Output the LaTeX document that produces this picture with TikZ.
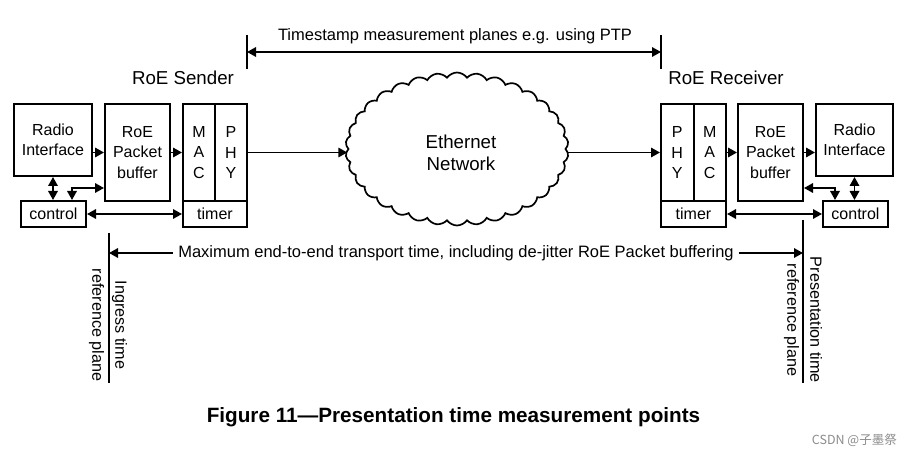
\documentclass[tikz,border=0pt]{standalone}
\usepackage{fontspec}
\setmainfont{Liberation Sans}
\newfontfamily\cjk{Noto Sans CJK SC}
\usetikzlibrary{arrows.meta,shapes.symbols}
\tikzset{
  box/.style={draw, line width=2pt, inner sep=0pt, align=center, font=\fontsize{16}{20.5}\selectfont},
  tip/.tip={Triangle[length=9pt,width=9.5pt]},
  arr/.style={line width=1.7pt, -tip},
  darr/.style={line width=1.7pt, tip-tip},
  lbl/.style={font=\fontsize{16.5}{20}\selectfont, inner sep=1pt},
  biglbl/.style={font=\fontsize{18.7}{22}\selectfont, inner sep=1pt},
  plane/.style={line width=1.7pt},
  vlbl/.style={rotate=-90, align=center, font=\fontsize{16.2}{23}\selectfont, inner sep=0pt}
}
\begin{document}
\begin{tikzpicture}[x=1pt,y=-1pt]
\useasboundingbox[fill=white] (0,0) rectangle (913,457);
% left side
\node[box, minimum width=78pt, minimum height=72pt] (ri) at (53,140) {Radio\\Interface};
\node[box, minimum width=65pt, minimum height=97pt] (buf) at (137.5,152.5) {RoE\\Packet\\buffer};
\node[box, minimum width=32pt, minimum height=97pt] (mac) at (199,152.5) {M\\A\\C};
\node[box, minimum width=32pt, minimum height=97pt] (phy) at (231,152.5) {P\\H\\Y};
\node[box, minimum width=64pt, minimum height=26pt] (timer) at (215,214) {timer};
\node[box, minimum width=65pt, minimum height=26pt] (ctl) at (53.5,214) {control};
% right side
\node[box, minimum width=32.5pt, minimum height=97pt] (phy2) at (677.25,152.5) {P\\H\\Y};
\node[box, minimum width=32.5pt, minimum height=97pt] (mac2) at (709.75,152.5) {M\\A\\C};
\node[box, minimum width=65pt, minimum height=26pt] (timer2) at (693.5,214) {timer};
\node[box, minimum width=65pt, minimum height=97pt] (buf2) at (770.5,152.5) {RoE\\Packet\\buffer};
\node[box, minimum width=77pt, minimum height=72pt] (ri2) at (854.5,140) {Radio\\Interface};
\node[box, minimum width=65pt, minimum height=26pt] (ctl2) at (855.5,214) {control};
% cloud
\node[cloud, draw, line width=1.7pt, cloud puffs=34, cloud puff arc=110, aspect=1.45,
      minimum width=223pt, minimum height=153pt, inner sep=0pt] (net) at (457,149) {};
\node[align=center, font=\fontsize{18.7}{21.5}\selectfont, inner sep=0pt] (nettxt) at (461,153) {Ethernet\\Network};
% data arrows
\draw[arr] (ri.east |- buf.west) -- (buf.west);
\draw[arr] (buf.east) -- (mac.west);
\draw[arr] (phy.east) -- (phy.east -| net.west);
\draw[arr] (phy2.west -| net.east) -- (phy2.west);
\draw[arr] (mac2.east) -- (buf2.west);
\draw[arr] (buf2.east) -- (buf2.east -| ri2.west);
% control arrows
\draw[darr] (ri.south) -- (ri.south |- ctl.north);
\draw[darr] (buf.west |- 0,188) -| (ctl.north -| 72,0);
\draw[darr] (ctl.east) -- (timer.west);
\draw[darr] (ri2.south) -- (ri2.south |- ctl2.north);
\draw[darr] (buf2.east |- 0,188) -| (ctl2.north -| 835,0);
\draw[darr] (timer2.east) -- (ctl2.west);
% labels
\node[biglbl] (snd) at (183,78) {RoE Sender};
\node[biglbl] (rcv) at (726,78) {RoE Receiver};
% top timestamp planes
\coordinate (ttl) at (247,35);
\coordinate (tbl) at (247,69);
\coordinate (ttr) at (661,35);
\coordinate (tbr) at (661,69);
\coordinate (tal) at (247,52);
\coordinate (tar) at (661,52);
\draw[plane] (ttl) -- (tbl);
\draw[plane] (ttr) -- (tbr);
\draw[darr] (tal) -- (tar);
\node[lbl] (ts) at (455,36) {Timestamp measurement planes e.g. using PTP};
% bottom reference planes
\coordinate (lpt) at (109,233);
\coordinate (lpb) at (109,383);
\coordinate (rpt) at (803,220);
\coordinate (rpb) at (803,383);
\draw[plane] (lpt) -- (lpb);
\draw[plane] (rpt) -- (rpb);
\node[lbl, inner sep=5pt] (mx) at (456,253) {Maximum end-to-end transport time, including de-jitter RoE Packet buffering};
\draw[arr] (mx.west) -- (mx.west -| lpt);
\draw[arr] (mx.east) -- (mx.east -| rpt);
\node[vlbl] (ing) at (108,325) {Ingress time\\reference plane};
\node[vlbl] (pres) at (803,320) {Presentation time\\reference plane};
% caption
\node[font=\bfseries\fontsize{20.7}{24}\selectfont, inner sep=0pt] (cap) at (453.5,417) {Figure 11—Presentation time measurement points};
\node[anchor=east, text=black!45, font=\cjk\fontsize{12.5}{14}\selectfont, inner sep=0pt] (wm) at (897,440) {CSDN @子墨祭};
\end{tikzpicture}
\end{document}
